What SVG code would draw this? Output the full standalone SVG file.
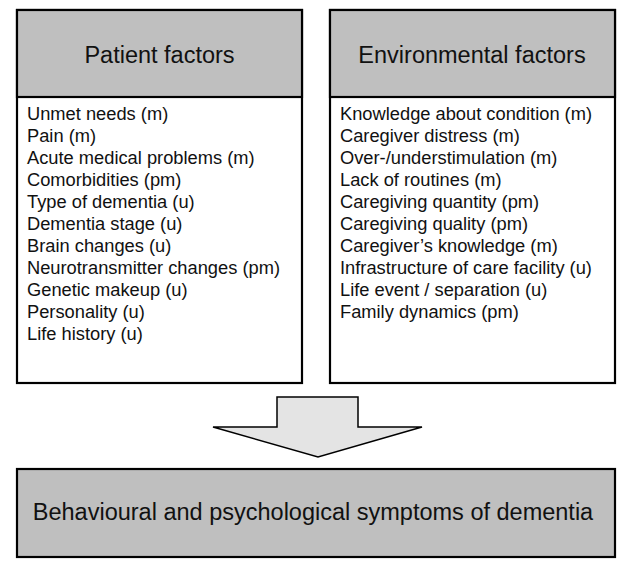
<svg xmlns="http://www.w3.org/2000/svg" width="632" height="572" viewBox="0 0 632 572">
<style>
.box{fill:#ffffff;stroke:#000;stroke-width:2.2}
.hdr{fill:#bfbfbf;stroke:#000;stroke-width:2.2}
.title{font-family:"Liberation Sans",Arial,sans-serif;font-size:23.5px;fill:#111;text-anchor:middle}
.item{font-family:"Liberation Sans",Arial,sans-serif;font-size:18.3px;fill:#111}
.arrow{fill:#e4e4e4;stroke:#000;stroke-width:1.5;stroke-linejoin:miter}
</style>
<rect width="632" height="572" fill="#ffffff"/>
<g id="patient-factors">
<rect class="box" x="17" y="10" width="285" height="373"/>
<rect class="hdr" x="17" y="10" width="285" height="87"/>
<text class="title" x="159.5" y="63">Patient factors</text>
<text class="item" x="27" y="120">Unmet needs (m)</text>
<text class="item" x="27" y="142">Pain (m)</text>
<text class="item" x="27" y="164">Acute medical problems (m)</text>
<text class="item" x="27" y="186">Comorbidities (pm)</text>
<text class="item" x="27" y="208">Type of dementia (u)</text>
<text class="item" x="27" y="230">Dementia stage (u)</text>
<text class="item" x="27" y="252">Brain changes (u)</text>
<text class="item" x="27" y="274">Neurotransmitter changes (pm)</text>
<text class="item" x="27" y="296">Genetic makeup (u)</text>
<text class="item" x="27" y="318">Personality (u)</text>
<text class="item" x="27" y="340">Life history (u)</text>
</g>
<g id="environmental-factors">
<rect class="box" x="330" y="10" width="285" height="373"/>
<rect class="hdr" x="330" y="10" width="285" height="87"/>
<text class="title" x="472" y="63">Environmental factors</text>
<text class="item" x="340" y="120">Knowledge about condition (m)</text>
<text class="item" x="340" y="142">Caregiver distress (m)</text>
<text class="item" x="340" y="164">Over-/understimulation (m)</text>
<text class="item" x="340" y="186">Lack of routines (m)</text>
<text class="item" x="340" y="208">Caregiving quantity (pm)</text>
<text class="item" x="340" y="230">Caregiving quality (pm)</text>
<text class="item" x="340" y="252">Caregiver’s knowledge (m)</text>
<text class="item" x="340" y="274">Infrastructure of care facility (u)</text>
<text class="item" x="340" y="296">Life event / separation (u)</text>
<text class="item" x="340" y="318">Family dynamics (pm)</text>
</g>
<g id="connectors">
<polygon class="arrow" points="277,397 358,397 358,427 422,427 318,457 213,427 277,427"/>
</g>
<g id="bpsd">
<rect class="hdr" x="17" y="469" width="598" height="88"/>
<text class="title" x="313" y="520">Behavioural and psychological symptoms of dementia</text>
</g>
</svg>
